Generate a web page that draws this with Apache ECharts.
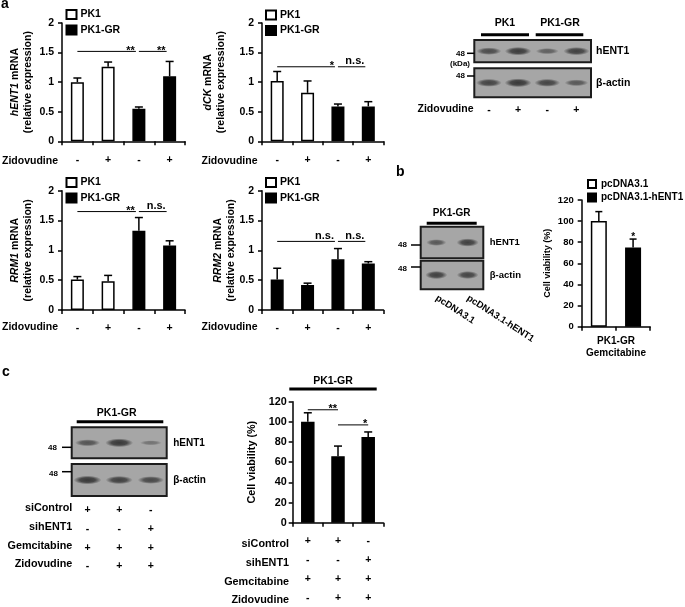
<!DOCTYPE html>
<html><head><meta charset="utf-8">
<script src="https://cdn.jsdelivr.net/npm/echarts@6/dist/echarts.min.js"></script>
<style>html,body{margin:0;padding:0;background:#fff}#c{width:685px;height:607px}</style>
</head><body><div id="c"></div>
<script>
// ================= DATA =================
// Panel a – qPCR bar charts
const zidovudine = ['-', '+', '-', '+'];
const cellLineA = ['PK1', 'PK1', 'PK1-GR', 'PK1-GR'];
const cellLineRRM2 = ['PK1-GR', 'PK1-GR', 'PK1-GR', 'PK1-GR'];
const legendA = ['PK1', 'PK1-GR'];
const hENT1Mean = [1.00, 1.26, 0.55, 1.10];
const hENT1Err  = [0.07, 0.08, 0.03, 0.25];
const dCKMean   = [1.02, 0.82, 0.59, 0.59];
const dCKErr    = [0.16, 0.20, 0.04, 0.08];
const rrm1Mean  = [0.51, 0.48, 1.33, 1.08];
const rrm1Err   = [0.05, 0.10, 0.22, 0.08];
const rrm2Mean  = [0.51, 0.42, 0.85, 0.78];
const rrm2Err   = [0.19, 0.03, 0.18, 0.03];
// significance: [fromIndex, toIndex, yValue, label]
const sigHENT1 = [[0, 2, 1.52, '**'], [2, 3, 1.52, '**']];
const sigDCK   = [[0, 2, 1.26, '*'],  [2, 3, 1.26, 'n.s.']];
const sigRRM1  = [[0, 2, 1.65, '**'], [2, 3, 1.65, 'n.s.']];
const sigRRM2  = [[0, 2, 1.15, 'n.s.'], [2, 3, 1.15, 'n.s.']];
const mrnaAxis = { min: 0, max: 2, step: 0.5 };
// Panel a – western blot (band intensity 0..1)
const blotA_hENT1 = [0.70, 0.90, 0.45, 0.85];
const blotA_actin = [0.80, 0.95, 0.80, 0.55];
// Panel b
const bLanes = ['pcDNA3.1', 'pcDNA3.1-hENT1'];
const blotB_hENT1 = [0.55, 0.85];
const blotB_actin = [0.85, 0.80];
const viabilityB    = [100, 75];
const viabilityBErr = [9, 8];
const sigB = [[1, 1, 85, '*']];
// Panel c
const siControl   = ['+', '+', '-'];
const sihENT1     = ['-', '-', '+'];
const gemcitabine = ['+', '+', '+'];
const zidovudineC = ['-', '+', '+'];
const blotC_hENT1 = [0.60, 0.95, 0.20];
const blotC_actin = [0.95, 0.85, 0.75];
const viabilityC    = [100, 66, 85];
const viabilityCErr = [9, 10, 5];
const sigC = [[0, 1, 112, '**'], [1, 2, 97, '*']];
const viabilityAxis = { min: 0, max: 120, step: 20 };

// ================= BUILD =================
const F = '"Liberation Sans", Arial, Helvetica, sans-serif';
const grids = [], xAxes = [], yAxes = [], series = [], legends = [];
const WHITE = ['PK1', 'pcDNA3.1'];
function barStyle(name) {
  return WHITE.includes(name)
    ? { color: '#fff', borderColor: '#000', borderWidth: 1.5 }
    : { color: '#000', borderColor: '#000', borderWidth: 1.5 };
}
function errRender(capW) {
  return function (params, api) {
    const i = api.value(0), m = api.value(1), e = api.value(2);
    const p0 = api.coord([i, m]), p1 = api.coord([i, m + e]);
    return { type: 'group', children: [
      { type: 'line', shape: { x1: p0[0], y1: p0[1], x2: p1[0], y2: p1[1] }, style: { stroke: '#000', lineWidth: 1.5 } },
      { type: 'line', shape: { x1: p1[0] - capW / 2, y1: p1[1], x2: p1[0] + capW / 2, y2: p1[1] }, style: { stroke: '#000', lineWidth: 1.5 } }
    ] };
  };
}
function sigRender(sigs, trim, fs) {
  return function (params, api) {
    const s = sigs[params.dataIndex];
    const a = api.coord([s[0], s[2]]), b = api.coord([s[1], s[2]]);
    const hasLine = s[0] !== s[1];
    const x2 = b[0] - trim;
    const star = s[3].indexOf('*') >= 0;
    const ch = [];
    if (hasLine) ch.push({ type: 'line', shape: { x1: a[0], y1: a[1], x2: x2, y2: a[1] }, style: { stroke: '#000', lineWidth: 1 } });
    ch.push({ type: 'text', x: hasLine ? x2 - 1 : a[0], y: a[1] + (star ? 5 : 0),
      style: { text: s[3], fill: '#000', font: 'bold ' + fs + 'px ' + F, align: hasLine ? 'right' : 'center', verticalAlign: 'bottom' } });
    return { type: 'group', children: ch };
  };
}
function barPanel(c) {
  const gi = grids.length; grids.push(Object.assign({ show: false }, c.grid));
  const xi = xAxes.length;
  xAxes.push({ type: 'category', gridIndex: gi, data: c.cats,
    axisLine: { show: true, lineStyle: { color: '#000', width: 1.5 } },
    axisTick: { show: true, length: 4, lineStyle: { color: '#000', width: 1.5 } },
    axisLabel: { color: '#000', fontFamily: F, fontWeight: 'bold', fontSize: c.xfs, margin: c.xMargin, lineHeight: c.lineHeight, interval: 0 },
    splitLine: { show: false } });
  const yi = yAxes.length;
  yAxes.push({ type: 'value', gridIndex: gi, min: c.axis.min, max: c.axis.max, interval: c.axis.step,
    axisLine: { show: true, lineStyle: { color: '#000', width: 1.5 } },
    axisTick: { show: true, length: 4, lineStyle: { color: '#000', width: 1.5 } },
    axisLabel: { color: '#000', fontFamily: F, fontWeight: 'bold', fontSize: c.yfs, margin: c.yMargin },
    splitLine: { show: false },
    name: c.yName, nameLocation: 'middle', nameGap: c.nameGap, nameRotate: 90, nameMoveOverlap: false,
    nameTextStyle: { color: '#000', fontFamily: F, fontWeight: 'bold', fontSize: c.nfs, lineHeight: c.nfs + 2.5,
      rich: { i: { fontStyle: 'italic', fontWeight: 'bold', fontFamily: F, fontSize: c.nfs, color: '#000' } } } });
  c.names.forEach(function (nm) {
    series.push({ type: 'bar', name: nm, xAxisIndex: xi, yAxisIndex: yi, barWidth: c.barWidth, barGap: '-100%',
      data: c.mean.map(function (v, i) { return c.groups[i] === nm ? v : '-'; }),
      itemStyle: barStyle(nm), silent: true });
  });
  series.push({ type: 'custom', xAxisIndex: xi, yAxisIndex: yi, encode: { x: 0, y: 1 }, z: 3, silent: true,
    data: c.mean.map(function (v, i) { return [i, v, c.err[i]]; }), renderItem: errRender(c.capW) });
  series.push({ type: 'custom', xAxisIndex: xi, yAxisIndex: yi, encode: { x: 0, y: 1 }, z: 4, silent: true,
    data: c.sig.map(function (s) { return [s[0], s[2]]; }), renderItem: sigRender(c.sig, c.trim, c.sfs) });
  if (c.legend) legends.push(Object.assign({ orient: 'vertical', icon: 'rect', selectedMode: false,
    data: c.legendNames, padding: 0, itemWidth: 10, itemHeight: 9, itemGap: 4.5,
    textStyle: { color: '#000', fontFamily: F, fontWeight: 'bold', fontSize: 10.5, padding: [0, 0, 0, -1] } }, c.legend));
}
function bandItem(i, v, bandW) {
  const a = 0.3 + 0.68 * v;
  return { value: [i, 0, v], symbolSize: [bandW * (0.75 + 0.3 * v), 4 + 5 * v],
    itemStyle: { color: new echarts.graphic.RadialGradient(0.5, 0.5, 0.5, [
      { offset: 0, color: 'rgba(20,20,20,' + a + ')' },
      { offset: 0.55, color: 'rgba(20,20,20,' + (a * 0.85) + ')' },
      { offset: 1, color: 'rgba(20,20,20,0)' }]) } };
}
function blotPanel(c) {
  const gi = grids.length;
  grids.push(Object.assign({ show: true, backgroundColor: '#a6a6a6', borderColor: '#1c1c1c', borderWidth: 2 }, c.grid));
  const xi = xAxes.length;
  xAxes.push({ type: 'category', gridIndex: gi, data: c.lanes, axisLine: { show: false }, axisTick: { show: false },
    axisLabel: c.laneLabel ? Object.assign({ show: true, color: '#000', fontFamily: F, fontWeight: 'bold', interval: 0 }, c.laneLabel) : { show: false },
    splitLine: { show: false } });
  const yi = yAxes.length;
  yAxes.push({ type: 'category', gridIndex: gi, data: [c.label], position: 'right', axisLine: { show: false }, axisTick: { show: false },
    axisLabel: { color: '#000', fontFamily: F, fontWeight: 'bold', fontSize: c.labelFs, margin: c.labelMargin },
    splitLine: { show: false } });
  series.push({ type: 'scatter', xAxisIndex: xi, yAxisIndex: yi, symbol: 'circle', silent: true,
    data: c.intensity.map(function (v, i) { return bandItem(i, v, c.bandW); }) });
}

// ---- panel a charts
const aCommon = { axis: mrnaAxis, cats: zidovudine, xfs: 10.5, xMargin: 13, yfs: 10.5, yMargin: 8, nfs: 10.5,
  barWidth: 13, capW: 8, trim: 3, sfs: 11, names: legendA, legendNames: legendA };
barPanel(Object.assign({}, aCommon, { grid: { left: 62, top: 23, width: 123, height: 118.3 },
  groups: cellLineA, mean: hENT1Mean, err: hENT1Err, sig: sigHENT1, nameGap: 27,
  yName: '{i|hENT1} mRNA\n(relative expression)', legend: { left: 65.5, top: 9 } }));
barPanel(Object.assign({}, aCommon, { grid: { left: 262, top: 23, width: 121.5, height: 118.3 },
  groups: cellLineA, mean: dCKMean, err: dCKErr, sig: sigDCK, nameGap: 34,
  yName: '{i|dCK} mRNA\n(relative expression)', legend: { left: 265, top: 9.5 } }));
barPanel(Object.assign({}, aCommon, { grid: { left: 62, top: 190.7, width: 123, height: 119.3 },
  groups: cellLineA, mean: rrm1Mean, err: rrm1Err, sig: sigRRM1, nameGap: 27,
  yName: '{i|RRM1} mRNA\n(relative expression)', legend: { left: 65.5, top: 177 } }));
barPanel(Object.assign({}, aCommon, { grid: { left: 262, top: 190.7, width: 121.5, height: 119.3 },
  groups: cellLineRRM2, mean: rrm2Mean, err: rrm2Err, sig: sigRRM2, nameGap: 24,
  yName: '{i|RRM2} mRNA\n(relative expression)', legend: { left: 265, top: 177 } }));
// ---- panel b chart
barPanel({ grid: { left: 581.7, top: 200, width: 68.5, height: 126.7 }, axis: viabilityAxis,
  cats: bLanes, groups: bLanes, names: bLanes, legendNames: bLanes, mean: viabilityB, err: viabilityBErr, sig: sigB,
  xfs: 10, xMargin: 8, yfs: 9.5, yMargin: 8, nfs: 9, nameGap: 28.5, yName: 'Cell viability (%)',
  barWidth: 16, capW: 7, trim: 0, sfs: 10,
  legend: { left: 587, top: 179, itemWidth: 8, itemHeight: 8, itemGap: 3.5, textStyle: { color: '#000', fontFamily: F, fontWeight: 'bold', fontSize: 10 } } });
// hide b category labels (custom two-line label below)
xAxes[xAxes.length - 1].axisLabel.show = false;
// ---- panel c chart
const cLaneLabels = siControl.map(function (_, i) { return [siControl[i], sihENT1[i], gemcitabine[i], zidovudineC[i]].join('\n'); });
barPanel({ grid: { left: 292.7, top: 401.7, width: 90.6, height: 127.6 }, axis: viabilityAxis,
  cats: cLaneLabels, groups: ['viability', 'viability', 'viability'], names: ['viability'],
  mean: viabilityC, err: viabilityCErr, sig: sigC,
  xfs: 10.5, xMargin: 9.5, lineHeight: 18.7, yfs: 10.8, yMargin: 6, nfs: 10.8, nameGap: 34, yName: 'Cell viability (%)',
  barWidth: 13.5, capW: 8, trim: 0, sfs: 11 });

// ---- blots
blotPanel({ grid: { left: 474.3, top: 40, width: 116.7, height: 22.3 }, lanes: zidovudine, intensity: blotA_hENT1,
  label: 'hENT1', labelFs: 10.5, labelMargin: 5, bandW: 26 });
blotPanel({ grid: { left: 474.3, top: 68.3, width: 116.7, height: 29 }, lanes: zidovudine, intensity: blotA_actin,
  label: 'β-actin', labelFs: 10.5, labelMargin: 5, bandW: 26,
  laneLabel: { fontSize: 10.5, margin: 7 } });
blotPanel({ grid: { left: 420.7, top: 226.7, width: 62.6, height: 31.6 }, lanes: bLanes, intensity: blotB_hENT1,
  label: 'hENT1', labelFs: 9.5, labelMargin: 6.5, bandW: 22 });
blotPanel({ grid: { left: 420.7, top: 260.7, width: 62.6, height: 28.6 }, lanes: bLanes, intensity: blotB_actin,
  label: 'β-actin', labelFs: 9.5, labelMargin: 6.5, bandW: 22,
  laneLabel: { fontSize: 9.5, margin: 8, rotate: -33 } });
blotPanel({ grid: { left: 71.7, top: 427.3, width: 95, height: 31 }, lanes: cLaneLabels, intensity: blotC_hENT1,
  label: 'hENT1', labelFs: 10, labelMargin: 6.5, bandW: 27 });
blotPanel({ grid: { left: 71.7, top: 464, width: 95, height: 32 }, lanes: cLaneLabels, intensity: blotC_actin,
  label: 'β-actin', labelFs: 10, labelMargin: 6.5, bandW: 27,
  laneLabel: { fontSize: 10.5, margin: 5, lineHeight: 18.7 } });

// ---- annotation texts
function T(text, x, y, fs, align) {
  return { type: 'text', x: x, y: y, silent: true, z: 10,
    style: { text: text, fill: '#000', font: 'bold ' + fs + 'px ' + F, align: align || 'left', verticalAlign: 'middle' } };
}
function L(x1, y1, x2, y2, w) {
  return { type: 'line', silent: true, z: 10, shape: { x1: x1, y1: y1, x2: x2, y2: y2 }, style: { stroke: '#000', lineWidth: w } };
}
const elements = [
  T('a', 1, 4.5, 14), T('b', 396, 172.5, 14), T('c', 2, 372, 14),
  T('Zidovudine', 58, 161, 10.5, 'right'), T('Zidovudine', 257.5, 161, 10.5, 'right'),
  T('Zidovudine', 58, 326.7, 10.5, 'right'), T('Zidovudine', 257.5, 326.7, 10.5, 'right'),
  T('Zidovudine', 473.5, 109.3, 10.5, 'right'),
  T('PK1', 505, 23.3, 10.5, 'center'), T('PK1-GR', 560, 23.3, 10.5, 'center'),
  L(481, 34.7, 529, 34.7, 3), L(535.7, 34.7, 583.3, 34.7, 3),
  T('48', 465, 53.3, 8, 'right'), L(467, 53.3, 474.3, 53.3, 1.5), T('(kDa)', 460, 63.5, 8, 'center'),
  T('48', 465, 76, 8, 'right'), L(467, 76, 474.3, 76, 1.5),
  T('PK1-GR', 451.7, 213.3, 10, 'center'), L(426.7, 223.3, 476.7, 223.3, 3),
  T('48', 407, 245, 8, 'right'), L(411, 245, 420.7, 245, 1.5),
  T('48', 407, 268.5, 8, 'right'), L(411, 267, 420.7, 267, 1.5),
  T('PK1-GR', 616, 341.7, 10, 'center'), T('Gemcitabine', 616, 353.3, 10, 'center'),
  T('PK1-GR', 116.7, 412.7, 10.5, 'center'), L(76.7, 421.7, 163.3, 421.7, 3),
  T('48', 57, 447.3, 8, 'right'), L(62, 447.3, 71.7, 447.3, 1.5),
  T('48', 58, 473.3, 8, 'right'), L(62, 471.7, 71.7, 471.7, 1.5),
  T('siControl', 72.3, 508.3, 10.8, 'right'), T('sihENT1', 72.3, 526.7, 10.8, 'right'),
  T('Gemcitabine', 72.3, 545.7, 10.8, 'right'), T('Zidovudine', 72.3, 564.3, 10.8, 'right'),
  T('PK1-GR', 333, 380.7, 10.5, 'center'), L(289.3, 389, 376.7, 389, 3),
  T('siControl', 289, 544, 10.8, 'right'), T('sihENT1', 289, 563.3, 10.8, 'right'),
  T('Gemcitabine', 289, 581.7, 10.8, 'right'), T('Zidovudine', 289, 600, 10.8, 'right')
];

const chart = echarts.init(document.getElementById('c'), null, { renderer: 'canvas' });
chart.setOption({
  animation: false,
  backgroundColor: '#fff',
  textStyle: { fontFamily: F },
  grid: grids, xAxis: xAxes, yAxis: yAxes, series: series, legend: legends,
  graphic: { elements: elements }
});
</script></body></html>
